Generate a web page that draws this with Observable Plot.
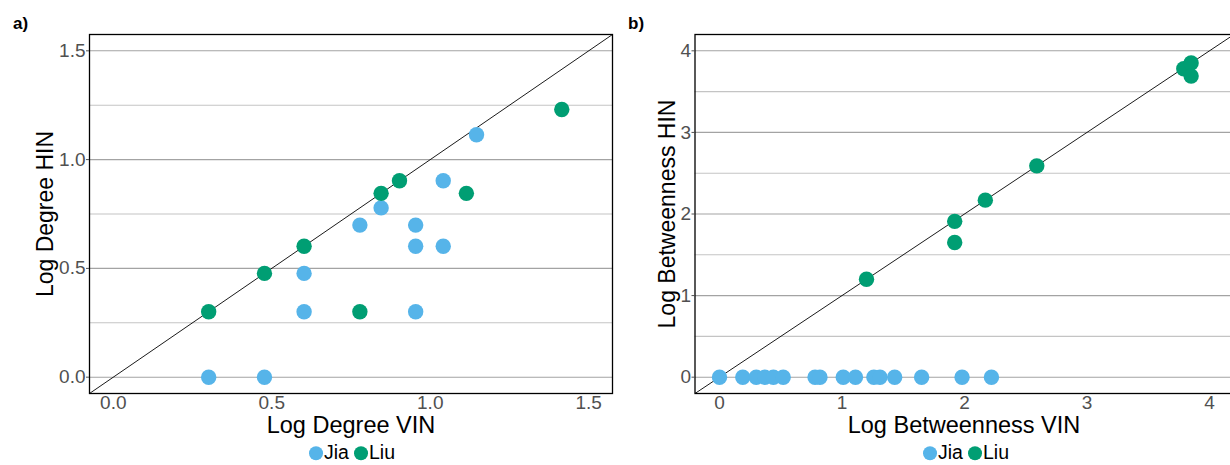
<!DOCTYPE html>
<html>
<head>
<meta charset="utf-8">
<script src="https://cdn.jsdelivr.net/npm/d3@7"></script>
<script src="https://cdn.jsdelivr.net/npm/@observablehq/plot@0.6"></script>
<style>
  html, body { margin: 0; padding: 0; background: #fff; overflow: hidden; }
  #root { position: relative; width: 1230px; height: 465px; overflow: hidden; font-family: "Liberation Sans", Arial, sans-serif; }
  .abs { position: absolute; white-space: nowrap; line-height: 1; }
  .panel { font-weight: bold; font-size: 17px; color: #000; }
  .xt { font-size: 23.5px; color: #000; transform: translateX(-50%); }
  .yt { font-size: 23px; color: #000; transform: translate(-50%, -50%) rotate(-90deg); }
  .legend { display: flex; align-items: center; transform: translate(-50%, -50%); font-size: 19.5px; color: #000; }
  .dot { width: 14px; height: 14px; border-radius: 50%; display: inline-block; }
</style>
</head>
<body>
<div id="root"></div>
<script>
// ---------- data ----------
const series = ["Jia", "Liu"];
const seriesColors = ["#56B4E9", "#009E73"];

// panel a: log degree
const degJiaVIN = [0.301, 0.477, 0.602, 0.602, 0.778, 0.845, 0.954, 0.954, 0.954, 1.041, 1.041, 1.146];
const degJiaHIN = [0, 0, 0.477, 0.301, 0.699, 0.778, 0.699, 0.602, 0.301, 0.903, 0.602, 1.114];
const degLiuVIN = [0.301, 0.477, 0.602, 0.845, 0.903, 1.114, 0.778, 1.415];
const degLiuHIN = [0.301, 0.477, 0.602, 0.845, 0.903, 0.845, 0.301, 1.230];

// panel b: log betweenness
const betJiaVIN = [0, 0.19, 0.30, 0.37, 0.44, 0.52, 0.78, 0.82, 1.01, 1.11, 1.26, 1.31, 1.43, 1.65, 1.98, 2.22];
const betJiaHIN = [0, 0, 0, 0, 0, 0, 0, 0, 0, 0, 0, 0, 0, 0, 0, 0];
const betLiuVIN = [1.20, 1.92, 1.92, 2.17, 2.59, 3.79, 3.85, 3.85];
const betLiuHIN = [1.20, 1.91, 1.65, 2.17, 2.59, 3.78, 3.85, 3.69];

const degTicks = [0, 0.5, 1, 1.5];
const degMinor = [0.25, 0.75, 1.25];
const degDomain = [-0.075, 1.575];
const betTicks = [0, 1, 2, 3, 4];
const betMinor = [0.5, 1.5, 2.5, 3.5];
const betDomain = [-0.2, 4.2];

function rows(xs, ys, name) { return xs.map((x, i) => ({x, y: ys[i], group: name})); }

function panel({data, ticks, minor, domain, fmt, left, width, mLeft, mRight}) {
  const H = 430;
  const svg = Plot.plot({
    width, height: H,
    marginTop: 34, marginBottom: H - 393, marginLeft: mLeft, marginRight: mRight,
    style: {fontFamily: "Liberation Sans, Arial, sans-serif", fontSize: "19px", background: "transparent"},
    x: {domain, label: null},
    y: {domain, label: null},
    color: {domain: series, range: seriesColors},
    marks: [
      Plot.ruleY(minor, {stroke: "#c4c4c4", strokeWidth: 1.1}),
      Plot.ruleY(ticks, {stroke: "#a3a3a3", strokeWidth: 1.1}),
      Plot.line(domain, {x: d => d, y: d => d, stroke: "#000", strokeWidth: 0.9, clip: true}),
      Plot.dot(data, {x: "x", y: "y", fill: "group", r: 7.7, stroke: null}),
      Plot.frame({stroke: "#000", strokeWidth: 1.3}),
      Plot.axisY({ticks, tickFormat: fmt, tickSize: 3, tickPadding: 1, fontSize: 19, color: "#505050", label: null}),
      Plot.axisX({ticks, tickFormat: fmt, tickSize: 0, tickPadding: 2, fontSize: 19, color: "#505050", label: null})
    ]
  });
  svg.style.position = "absolute";
  svg.style.left = left + "px";
  svg.style.top = "0px";
  return svg;
}

const root = document.getElementById("root");

const dataA = [...rows(degJiaVIN, degJiaHIN, "Jia"), ...rows(degLiuVIN, degLiuHIN, "Liu")];
const dataB = [...rows(betJiaVIN, betJiaHIN, "Jia"), ...rows(betLiuVIN, betLiuHIN, "Liu")];

root.appendChild(panel({data: dataA, ticks: degTicks, minor: degMinor, domain: degDomain,
  fmt: d3.format(".1f"), left: 0, width: 630, mLeft: 89, mRight: 18}));
root.appendChild(panel({data: dataB, ticks: betTicks, minor: betMinor, domain: betDomain,
  fmt: d3.format("d"), left: 620, width: 620, mLeft: 74.5, mRight: 6.5}));

function addText(cls, txt, css) {
  const d = document.createElement("div");
  d.className = "abs " + cls;
  d.textContent = txt;
  Object.assign(d.style, css);
  root.appendChild(d);
  return d;
}

addText("panel", "a)", {left: "13px", top: "15px"});
addText("panel", "b)", {left: "628px", top: "15px"});
addText("xt", "Log Degree VIN", {left: "351px", top: "414px"});
addText("xt", "Log Betweenness VIN", {left: "964px", top: "414px"});
addText("yt", "Log Degree HIN", {left: "45px", top: "213.5px"});
addText("yt", "Log Betweenness HIN", {left: "667px", top: "213.5px"});

function legend(cx) {
  const d = document.createElement("div");
  d.className = "abs legend";
  d.style.left = cx + "px";
  d.style.top = "453px";
  series.forEach((s, i) => {
    const dot = document.createElement("span");
    dot.className = "dot";
    dot.style.background = seriesColors[i];
    dot.style.marginLeft = i === 0 ? "0px" : "5px";
    dot.style.marginRight = "1px";
    const t = document.createElement("span");
    t.textContent = s;
    d.appendChild(dot);
    d.appendChild(t);
  });
  root.appendChild(d);
}
legend(352);
legend(966);
</script>
</body>
</html>
